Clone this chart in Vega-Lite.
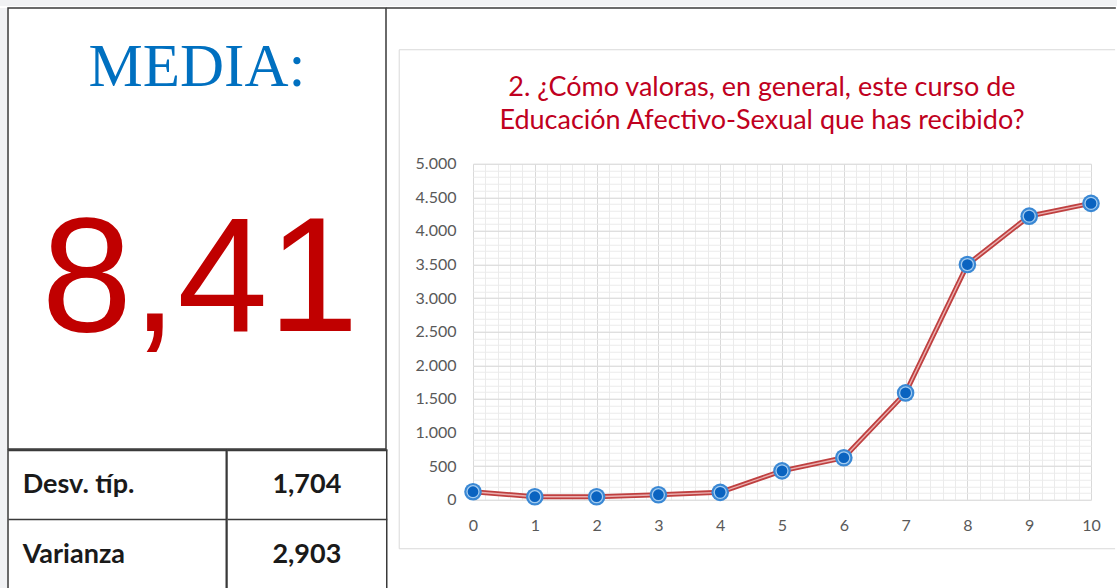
{
  "$schema": "https://vega.github.io/schema/vega-lite/v6.json",
  "background": "white",
  "padding": 0,
  "spacing": 0,
  "config": {
    "locale": {"number": {"decimal": ",", "thousands": ".", "grouping": [3], "currency": ["", " €"]}},
    "view": {"stroke": null},
    "concat": {"spacing": 0}
  },
  "vconcat": [
    {
      "width": 1117, "height": 6,
      "view": {"fill": "#f1f2f4", "stroke": null},
      "data": {"values": []},
      "mark": {"type": "rect"},
      "encoding": {}
    },
    {
      "spacing": 0,
      "hconcat": [
        {
          "width": 7, "height": 582,
          "view": {"fill": "#f1f2f4", "stroke": null},
          "data": {"values": []},
          "mark": {"type": "rect"},
          "encoding": {}
        },
        {
          "spacing": -3,
          "hconcat": [
            {
              "spacing": -1.5,
              "vconcat": [
                {
                  "width": 378, "height": 441,
                  "view": {"stroke": "#3a3a3a", "strokeWidth": 1.5, "fill": "white"},
                  "data": {"values": [{"etiqueta": "MEDIA:", "media": 8.41}]},
                  "layer": [
                    {
                      "mark": {"type": "text", "font": "Liberation Serif", "fontSize": 61, "fill": "#0070c0", "baseline": "alphabetic", "dy": -143},
                      "encoding": {"text": {"field": "etiqueta", "type": "nominal"}}
                    },
                    {
                      "mark": {"type": "text", "font": "Liberation Sans", "fontSize": 163, "fill": "#c00000", "baseline": "alphabetic", "dy": 102, "dx": 3},
                      "encoding": {"text": {"field": "media", "type": "quantitative", "format": ".2f"}}
                    }
                  ]
                },
                {
                  "spacing": -1.5,
                  "data": {"values": [
                    {"estadistico": "Desv. típ.", "valor": 1.704},
                    {"estadistico": "Varianza", "valor": 2.903}
                  ]},
                  "hconcat": [
                    {
                      "width": 218.25, "height": 139.5,
                      "view": {"stroke": "#3a3a3a", "strokeWidth": 1.5, "fill": "white"},
                      "mark": {"type": "text", "font": "Lato", "fontWeight": "bold", "fontSize": 27, "fill": "#1a1a1a", "align": "left", "baseline": "middle", "dx": -94.5},
                      "encoding": {
                        "y": {"field": "estadistico", "type": "nominal", "sort": null,
                          "scale": {"type": "band", "paddingInner": 0, "paddingOuter": 0},
                          "axis": {"grid": true, "bandPosition": 0, "gridColor": "#3a3a3a", "gridWidth": 1.5, "labels": false, "ticks": false, "domain": false, "title": null}},
                        "text": {"field": "estadistico", "type": "nominal"}
                      }
                    },
                    {
                      "width": 159.75, "height": 139.5,
                      "view": {"stroke": "#3a3a3a", "strokeWidth": 1.5, "fill": "white"},
                      "mark": {"type": "text", "font": "Lato", "fontWeight": "bold", "fontSize": 27, "fill": "#1a1a1a", "align": "center", "baseline": "middle"},
                      "encoding": {
                        "y": {"field": "estadistico", "type": "nominal", "sort": null,
                          "scale": {"type": "band", "paddingInner": 0, "paddingOuter": 0},
                          "axis": {"grid": true, "bandPosition": 0, "gridColor": "#3a3a3a", "gridWidth": 1.5, "labels": false, "ticks": false, "domain": false, "title": null}},
                        "text": {"field": "valor", "type": "quantitative", "format": ".3f"}
                      }
                    }
                  ]
                }
              ]
            },
            {
              "spacing": 38.75,
              "vconcat": [
                {
                  "width": 618, "height": 1,
                  "view": {"stroke": null},
                  "data": {"values": [{}]},
                  "mark": {"type": "rule", "color": "#3a3a3a", "strokeWidth": 1.5, "strokeCap": "square"},
                  "encoding": {
                    "x": {"datum": -1.392, "type": "quantitative", "scale": {"domain": [0, 10], "nice": false, "zero": false}, "axis": null},
                    "x2": {"datum": 10.39},
                    "y": {"datum": 1, "type": "quantitative", "scale": {"domain": [0, 1], "nice": false, "zero": false}, "axis": null}
                  }
                },
                {
                  "width": 618, "height": 336,
                  "view": {"stroke": null},
                  "data": {"values": [
                    {"puntuacion": 0, "frecuencia": 120},
                    {"puntuacion": 1, "frecuencia": 45},
                    {"puntuacion": 2, "frecuencia": 45},
                    {"puntuacion": 3, "frecuencia": 75},
                    {"puntuacion": 4, "frecuencia": 110},
                    {"puntuacion": 5, "frecuencia": 430},
                    {"puntuacion": 6, "frecuencia": 625},
                    {"puntuacion": 7, "frecuencia": 1590},
                    {"puntuacion": 8, "frecuencia": 3500},
                    {"puntuacion": 9, "frecuencia": 4220},
                    {"puntuacion": 10, "frecuencia": 4410}
                  ]},
                  "resolve": {"axis": {"x": "independent", "y": "independent"}},
                  "layer": [
                    {
                      "data": {"values": [{}]},
                      "mark": {"type": "rule", "color": "#d9d9d9", "strokeWidth": 1},
                      "encoding": {
                        "x": {"datum": -1.194, "type": "quantitative", "scale": {"domain": [0, 10], "nice": false, "zero": false}, "axis": null},
                        "x2": {"datum": 10.39},
                        "y": {"datum": 6696.4, "type": "quantitative", "scale": {"domain": [0, 5000], "nice": false, "zero": false}, "axis": null}
                      }
                    },
                    {
                      "data": {"values": [{}]},
                      "mark": {"type": "rule", "color": "#d9d9d9", "strokeWidth": 1},
                      "encoding": {
                        "x": {"datum": -1.194, "type": "quantitative", "scale": {"domain": [0, 10], "nice": false, "zero": false}, "axis": null},
                        "x2": {"datum": 10.39},
                        "y": {"datum": -729.2, "type": "quantitative", "scale": {"domain": [0, 5000], "nice": false, "zero": false}, "axis": null}
                      }
                    },
                    {
                      "data": {"values": [{}]},
                      "mark": {"type": "rule", "color": "#d9d9d9", "strokeWidth": 1},
                      "encoding": {
                        "x": {"datum": -1.194, "type": "quantitative", "scale": {"domain": [0, 10], "nice": false, "zero": false}, "axis": null},
                        "y": {"datum": 6696.4, "type": "quantitative", "scale": {"domain": [0, 5000], "nice": false, "zero": false}, "axis": null},
                        "y2": {"datum": -729.2}
                      }
                    },
                    {
                      "data": {"values": [{"titulo": ["2. ¿Cómo valoras, en general, este curso de", "Educación Afectivo-Sexual que has recibido?"]}]},
                      "mark": {"type": "text", "font": "Lato", "fontSize": 27, "fill": "#c00020", "align": "center", "baseline": "middle", "lineHeight": 33},
                      "encoding": {
                        "x": {"datum": 4.676, "type": "quantitative", "scale": {"domain": [0, 10], "nice": false, "zero": false}, "axis": null},
                        "y": {"datum": 6131, "type": "quantitative", "scale": {"domain": [0, 5000], "nice": false, "zero": false}, "axis": null},
                        "text": {"field": "titulo"}
                      }
                    },
                    {
                      "mark": {"type": "line", "color": "#bf4040", "strokeWidth": 5},
                      "encoding": {
                        "x": {"field": "puntuacion", "type": "quantitative", "scale": {"domain": [0, 10], "nice": false, "zero": false},
                          "axis": {"orient": "top", "tickCount": 50, "grid": true, "gridColor": "#ebebeb", "gridWidth": 1, "labels": false, "ticks": false, "domain": false, "title": null}},
                        "y": {"field": "frecuencia", "type": "quantitative", "scale": {"domain": [0, 5000], "nice": false, "zero": false},
                          "axis": {"orient": "right", "tickCount": 50, "grid": true, "gridColor": "#ebebeb", "gridWidth": 1, "labels": false, "ticks": false, "domain": false, "title": null}}
                      }
                    },
                    {
                      "mark": {"type": "line", "color": "#eab0b0", "strokeWidth": 1.4},
                      "encoding": {
                        "x": {"field": "puntuacion", "type": "quantitative", "scale": {"domain": [0, 10], "nice": false, "zero": false},
                          "axis": {"orient": "bottom", "tickCount": 10, "grid": true, "gridColor": "#d9d9d9", "gridWidth": 1, "domain": false, "ticks": false, "labelPadding": 18, "labelFont": "Lato", "labelFontSize": 16, "labelColor": "#595959", "labelFlush": false, "labelOverlap": false, "title": null}},
                        "y": {"field": "frecuencia", "type": "quantitative", "scale": {"domain": [0, 5000], "nice": false, "zero": false},
                          "axis": {"orient": "left", "tickCount": 10, "format": ",d", "grid": true, "gridColor": "#d9d9d9", "gridWidth": 1, "domain": false, "ticks": false, "labelPadding": 17, "labelFont": "Lato", "labelFontSize": 16, "labelColor": "#595959", "labelOverlap": false, "title": null}}
                      }
                    },
                    {
                      "mark": {"type": "circle", "size": 310, "fill": "#3a88d4", "opacity": 1},
                      "encoding": {
                        "x": {"field": "puntuacion", "type": "quantitative", "scale": {"domain": [0, 10], "nice": false, "zero": false}, "axis": null},
                        "y": {"field": "frecuencia", "type": "quantitative", "scale": {"domain": [0, 5000], "nice": false, "zero": false}, "axis": null}
                      }
                    },
                    {
                      "mark": {"type": "circle", "size": 175, "fill": "#a3cbef", "opacity": 1},
                      "encoding": {
                        "x": {"field": "puntuacion", "type": "quantitative", "scale": {"domain": [0, 10], "nice": false, "zero": false}, "axis": null},
                        "y": {"field": "frecuencia", "type": "quantitative", "scale": {"domain": [0, 5000], "nice": false, "zero": false}, "axis": null}
                      }
                    },
                    {
                      "mark": {"type": "circle", "size": 115, "fill": "#0a63c0", "opacity": 1},
                      "encoding": {
                        "x": {"field": "puntuacion", "type": "quantitative", "scale": {"domain": [0, 10], "nice": false, "zero": false}, "axis": null},
                        "y": {"field": "frecuencia", "type": "quantitative", "scale": {"domain": [0, 5000], "nice": false, "zero": false}, "axis": null}
                      }
                    }
                  ]
                }
              ]
            }
          ]
        }
      ]
    }
  ]
}
